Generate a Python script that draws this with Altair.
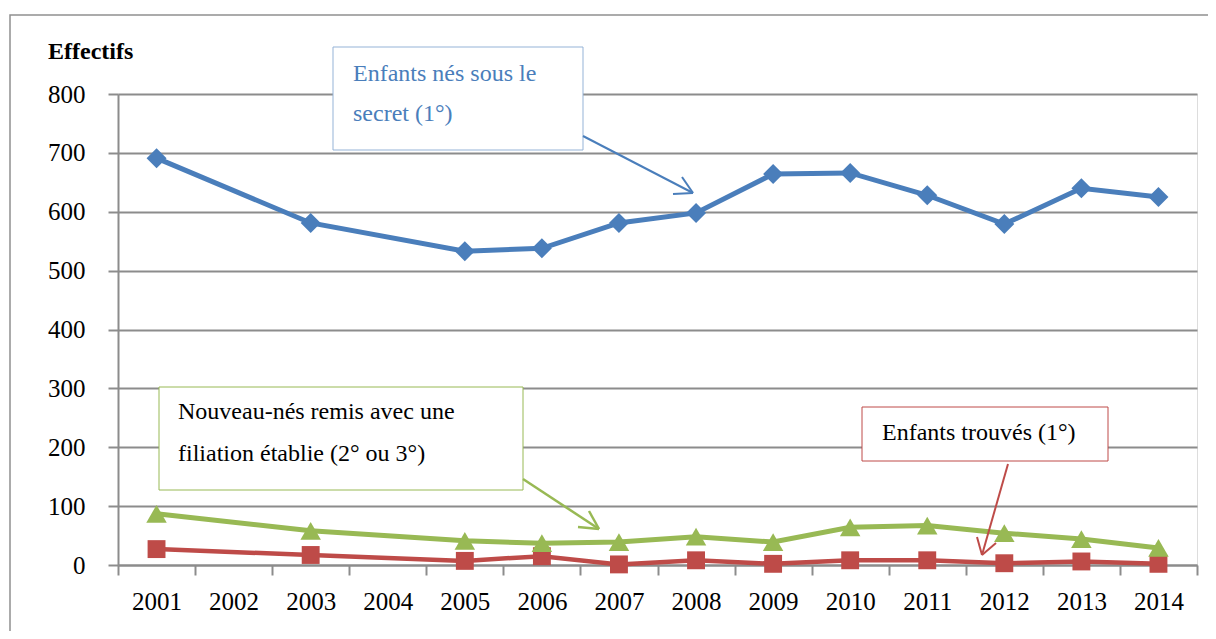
import altair as alt
import pandas as pd

# ---- data ----
axis_years = ["2001", "2002", "2003", "2004", "2005", "2006", "2007",
              "2008", "2009", "2010", "2011", "2012", "2013", "2014"]
data_years = ["2001", "2003", "2005", "2006", "2007", "2008",
              "2009", "2010", "2011", "2012", "2013", "2014"]
secret = [691, 581, 533, 538, 581, 598, 664, 666, 628, 579, 640, 625]
filiation = [87, 58, 41, 37, 39, 48, 39, 64, 67, 54, 44, 29]
trouves = [27, 17, 7, 15, 1, 8, 2, 8, 8, 3, 6, 2]
y_ticks = [0, 100, 200, 300, 400, 500, 600, 700, 800]

FONT = "Liberation Serif"
GRID = "#8c8c8c"
BLUE = "#4A7EBB"
RED = "#BE4B48"
GREEN = "#98B954"

df_secret = pd.DataFrame({"year": data_years, "value": secret})
df_fil = pd.DataFrame({"year": data_years, "value": filiation})
df_tr = pd.DataFrame({"year": data_years, "value": trouves})

x_enc = alt.X(
    "year:O",
    scale=alt.Scale(domain=axis_years, type="band", paddingInner=0, paddingOuter=0),
    axis=alt.Axis(title=None, labelAngle=0, tickBand="extent", grid=False,
                  domainColor=GRID, domainWidth=2, tickColor=GRID, tickWidth=2,
                  tickSize=10, labelPadding=14, labelFont=FONT, labelFontSize=25,
                  labelColor="black"),
)
y_enc = alt.Y(
    "value:Q",
    scale=alt.Scale(domain=[0, 800], nice=False),
    axis=alt.Axis(title=None, values=y_ticks, grid=True, gridColor=GRID, gridWidth=2,
                  domainColor=GRID, domainWidth=2, tickColor=GRID, tickWidth=2,
                  tickSize=10, labelPadding=23, labelFont=FONT, labelFontSize=25,
                  labelColor="black"),
)

one = pd.DataFrame({"k": [0]})


def series(df, color, shape, size, width):
    line = alt.Chart(df).mark_line(color=color, strokeWidth=width).encode(x=x_enc, y=y_enc)
    pts = alt.Chart(df).mark_point(shape=shape, size=size, filled=True, color=color,
                                   opacity=1).encode(x=x_enc, y=y_enc)
    return [line, pts]


def rule(x, y, x2, y2, color, w):
    return alt.Chart(one).mark_rule(color=color, strokeWidth=w).encode(
        x=alt.value(x), y=alt.value(y), x2=alt.value(x2), y2=alt.value(y2))


def box(x, y, x2, y2, color):
    return alt.Chart(one).mark_rect(fill="white", stroke=color, strokeWidth=1).encode(
        x=alt.value(x), y=alt.value(y), x2=alt.value(x2), y2=alt.value(y2))


def label(x, y, txt, color, size=24, weight="normal"):
    return alt.Chart(one).mark_text(align="left", baseline="middle", font=FONT,
                                    fontSize=size, fontWeight=weight, color=color).encode(
        x=alt.value(x), y=alt.value(y), text=alt.value(txt))


frame = alt.Chart(one).mark_rect(fillOpacity=0, stroke="#909090", strokeWidth=1.5).encode(
    x=alt.value(-108), y=alt.value(-79), x2=alt.value(1400), y2=alt.value(900))

layers = [frame]
layers += series(df_secret, BLUE, "diamond", 400, 5)
layers += series(df_tr, RED, "square", 320, 4.5)
layers += series(df_fil, GREEN, "triangle-up", 420, 5)

# annotations
layers += [
    label(-70, -42, "Effectifs", "black", 24, "bold"),
    # blue
    box(215, -47, 465, 56, "#95B3D7"),
    label(235, -20, "Enfants nés sous le", BLUE, 24),
    label(235, 20, "secret (1°)", BLUE, 24),
    rule(465, 42, 575, 99, BLUE, 2),
    rule(564, 83, 575, 99, BLUE, 2),
    rule(555, 100, 575, 99, BLUE, 2),
    # green
    box(41, 293, 405, 396, GREEN),
    label(60, 318, "Nouveau-nés remis avec une", "black", 24),
    label(60, 360, "filiation établie (2° ou 3°)", "black", 24),
    rule(405, 385, 481, 435, GREEN, 2.5),
    rule(471, 417, 481, 435, GREEN, 2.5),
    rule(460, 433, 481, 435, GREEN, 2.5),
    # red
    box(744, 313, 990, 367, RED),
    label(764, 339, "Enfants trouvés (1°)", "black", 24),
    rule(890, 370, 864, 461, RED, 2),
    rule(859, 443, 864, 461, RED, 2),
    rule(878, 449, 864, 461, RED, 2),
]

chart = alt.layer(*layers).properties(
    width=1079, height=471,
    padding={"left": 110, "top": 86, "right": 11, "bottom": 66},
    autosize=alt.AutoSizeParams(type="none"),
).configure_view(strokeWidth=0).configure(background="white")

chart.save("out.html", embed_options={"renderer": "svg", "actions": False})
